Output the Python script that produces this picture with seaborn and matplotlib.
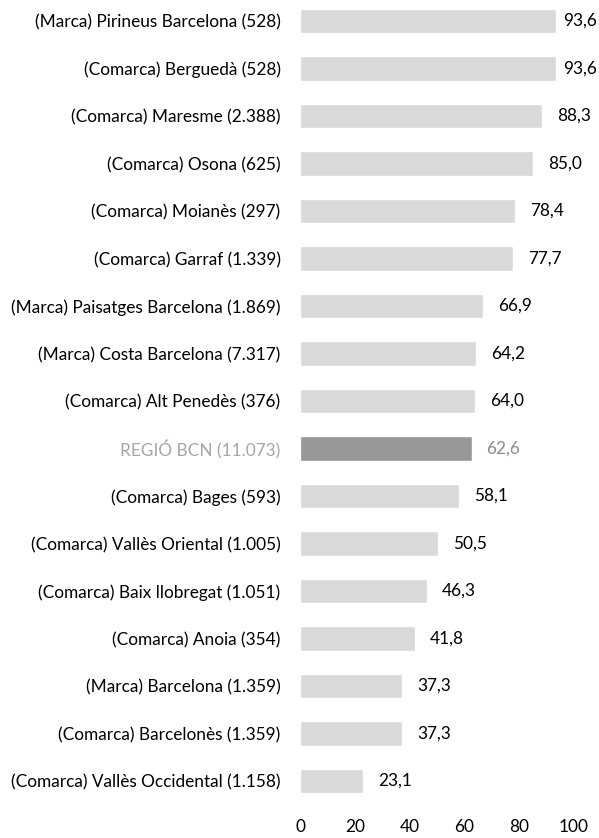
import pandas as pd
import matplotlib
matplotlib.use('Agg')
import matplotlib.pyplot as plt
import seaborn as sns

# Data
labels = [
    "(Marca) Pirineus Barcelona (528)",
    "(Comarca) Berguedà (528)",
    "(Comarca) Maresme (2.388)",
    "(Comarca) Osona (625)",
    "(Comarca) Moianès (297)",
    "(Comarca) Garraf (1.339)",
    "(Marca) Paisatges Barcelona (1.869)",
    "(Marca) Costa Barcelona (7.317)",
    "(Comarca) Alt Penedès (376)",
    "REGIÓ BCN (11.073)",
    "(Comarca) Bages (593)",
    "(Comarca) Vallès Oriental (1.005)",
    "(Comarca) Baix llobregat (1.051)",
    "(Comarca) Anoia (354)",
    "(Marca) Barcelona (1.359)",
    "(Comarca) Barcelonès (1.359)",
    "(Comarca) Vallès Occidental (1.158)",
]
values = [93.6, 93.6, 88.3, 85.0, 78.4, 77.7, 66.9, 64.2, 64.0, 62.6,
          58.1, 50.5, 46.3, 41.8, 37.3, 37.3, 23.1]
highlight = "REGIÓ BCN (11.073)"
x_ticks = [0, 20, 40, 60, 80, 100]

df = pd.DataFrame({"label": labels, "value": values})

sns.set_theme(style="white")
plt.rcParams['font.family'] = ['Lato', 'DejaVu Sans']
FS = 12.4

fig = plt.figure(figsize=(5.99, 8.38), dpi=100)
ax = fig.add_axes([300 / 599, 33 / 838, 274 / 599, 805 / 838])

palette = {lab: ("#979797" if lab == highlight else "#D9D9D9") for lab in labels}
sns.barplot(data=df, x="value", y="label", hue="label", palette=palette,
            legend=False, width=0.52, saturation=1, ax=ax)

ax.set_xlim(0, 100)
ax.set_ylim(16.505, -0.442)
ax.set_xticks(x_ticks)
ax.set_xticklabels([str(t) for t in x_ticks])
ax.set_xlabel("")
ax.set_ylabel("")
for s in ax.spines.values():
    s.set_visible(False)
ax.tick_params(axis="both", length=0, labelsize=FS, colors="#000000")
ax.tick_params(axis="x", pad=10)
ax.tick_params(axis="y", pad=14)

for tl in ax.get_yticklabels():
    if tl.get_text() == highlight:
        tl.set_color("#A6A6A6")

# value labels sit right of the bar; the longest ones are pulled in to stay in the chart
for i, (lab, v) in enumerate(zip(labels, values)):
    txt = f"{v:.1f}".replace(".", ",")
    ax.text(min(v + 5.5, 96.0), i, txt, ha="left", va="center", fontsize=FS,
            color="#8C8C8C" if lab == highlight else "#000000", clip_on=False)

fig.savefig("out.png", dpi=100)
